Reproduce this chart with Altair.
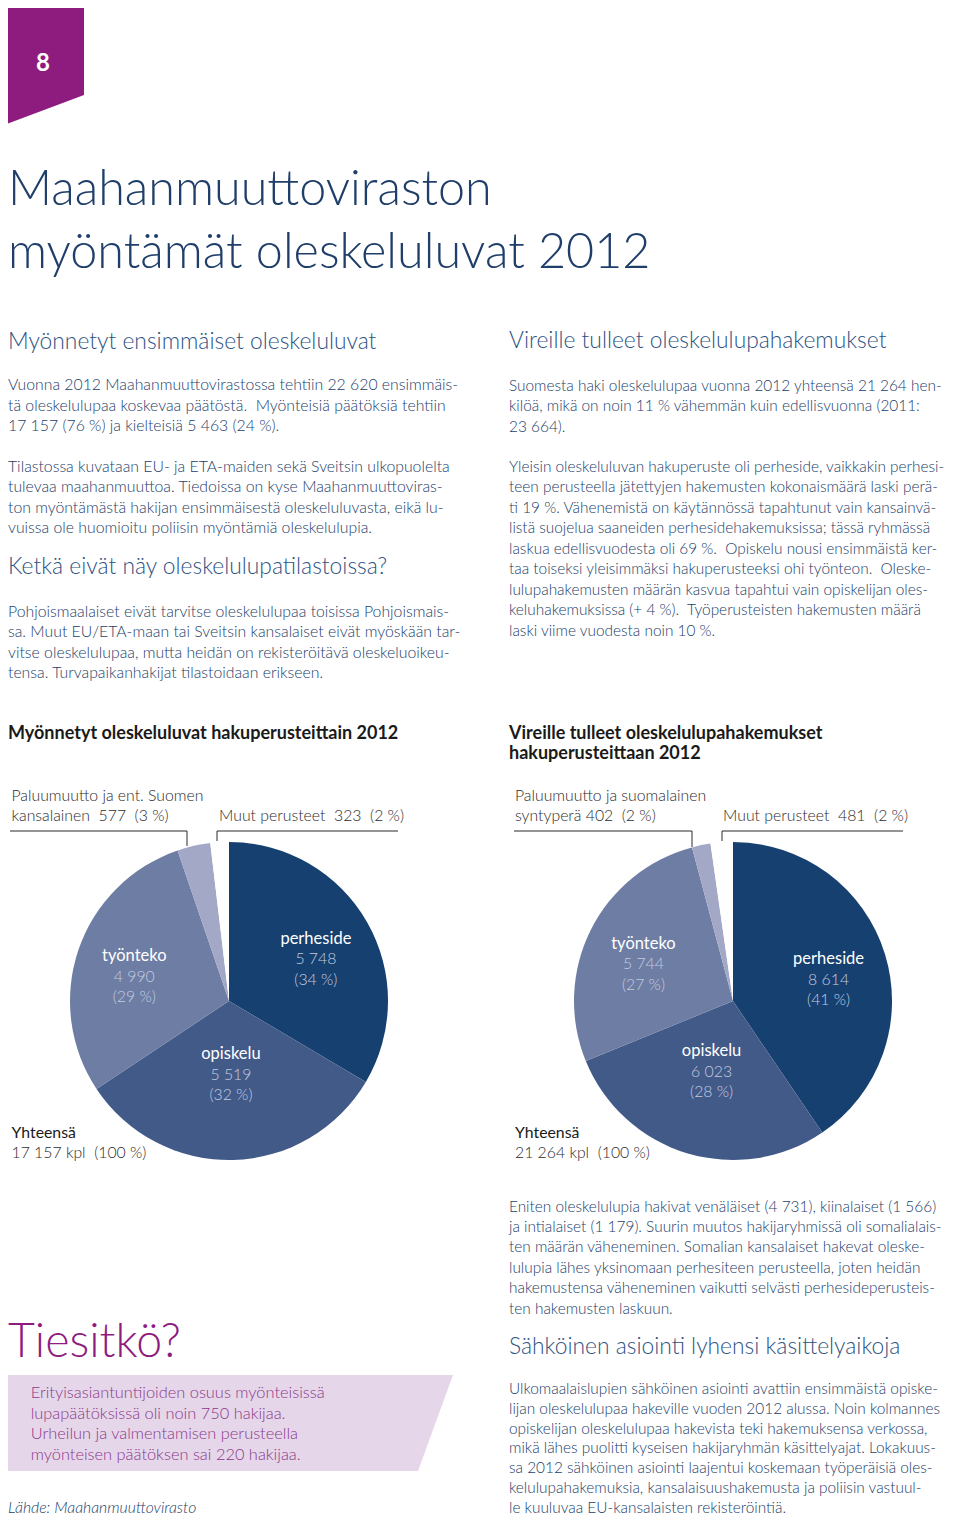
import altair as alt
import pandas as pd

# ---------------------------------------------------------------- data
categories = ["perheside", "opiskelu", "työnteko", "paluumuutto", "muut"]
granted_values = [5748, 5519, 4990, 577, 323]   # Myönnetyt oleskeluluvat 2012
applied_values = [8614, 6023, 5744, 402, 481]   # Vireille tulleet hakemukset 2012
slice_colors = ["#15406F", "#425A88", "#6E7DA3", "#A2A8C5", "#FFFFFF"]

page_number = "8"
title_lines = ["Maahanmuuttoviraston", "myöntämät oleskeluluvat 2012"]

left_heading1 = "Myönnetyt ensimmäiset oleskeluluvat"
left_para1 = [
    "Vuonna 2012 Maahanmuuttovirastossa tehtiin 22 620 ensimmäis-",
    "tä oleskelulupaa koskevaa päätöstä.  Myönteisiä päätöksiä tehtiin",
    "17 157 (76 %) ja kielteisiä 5 463 (24 %).",
]
left_para2 = [
    "Tilastossa kuvataan EU- ja ETA-maiden sekä Sveitsin ulkopuolelta",
    "tulevaa maahanmuuttoa. Tiedoissa on kyse Maahanmuuttoviras-",
    "ton myöntämästä hakijan ensimmäisestä oleskeluluvasta, eikä lu-",
    "vuissa ole huomioitu poliisin myöntämiä oleskelulupia.",
]
left_heading2 = "Ketkä eivät näy oleskelulupatilastoissa?"
left_para3 = [
    "Pohjoismaalaiset eivät tarvitse oleskelulupaa toisissa Pohjoismais-",
    "sa. Muut EU/ETA-maan tai Sveitsin kansalaiset eivät myöskään tar-",
    "vitse oleskelulupaa, mutta heidän on rekisteröitävä oleskeluoikeu-",
    "tensa. Turvapaikanhakijat tilastoidaan erikseen.",
]

right_heading1 = "Vireille tulleet oleskelulupahakemukset"
right_para1 = [
    "Suomesta haki oleskelulupaa vuonna 2012 yhteensä 21 264 hen-",
    "kilöä, mikä on noin 11 % vähemmän kuin edellisvuonna (2011:",
    "23 664).",
]
right_para2 = [
    "Yleisin oleskeluluvan hakuperuste oli perheside, vaikkakin perhesi-",
    "teen perusteella jätettyjen hakemusten kokonaismäärä laski perä-",
    "ti 19 %. Vähenemistä on käytännössä tapahtunut vain kansainvä-",
    "listä suojelua saaneiden perhesidehakemuksissa; tässä ryhmässä",
    "laskua edellisvuodesta oli 69 %.  Opiskelu nousi ensimmäistä ker-",
    "taa toiseksi yleisimmäksi hakuperusteeksi ohi työnteon.  Oleske-",
    "lulupahakemusten määrän kasvua tapahtui vain opiskelijan oles-",
    "keluhakemuksissa (+ 4 %).  Työperusteisten hakemusten määrä",
    "laski viime vuodesta noin 10 %.",
]

chart1_title = ["Myönnetyt oleskeluluvat hakuperusteittain 2012"]
chart2_title = ["Vireille tulleet oleskelulupahakemukset", "hakuperusteittaan 2012"]
chart1_return = ["Paluumuutto ja ent. Suomen", "kansalainen  577  (3 %)"]
chart1_other = ["Muut perusteet  323  (2 %)"]
chart2_return = ["Paluumuutto ja suomalainen", "syntyperä 402  (2 %)"]
chart2_other = ["Muut perusteet  481  (2 %)"]
chart1_total = "17 157 kpl  (100 %)"
chart2_total = "21 264 kpl  (100 %)"

bottom_para1 = [
    "Eniten oleskelulupia hakivat venäläiset (4 731), kiinalaiset (1 566)",
    "ja intialaiset (1 179). Suurin muutos hakijaryhmissä oli somalialais-",
    "ten määrän väheneminen. Somalian kansalaiset hakevat oleske-",
    "lulupia lähes yksinomaan perhesiteen perusteella, joten heidän",
    "hakemustensa väheneminen vaikutti selvästi perhesideperusteis-",
    "ten hakemusten laskuun.",
]
bottom_heading = "Sähköinen asiointi lyhensi käsittelyaikoja"
bottom_para2 = [
    "Ulkomaalaislupien sähköinen asiointi avattiin ensimmäistä opiske-",
    "lijan oleskelulupaa hakeville vuoden 2012 alussa. Noin kolmannes",
    "opiskelijan oleskelulupaa hakevista teki hakemuksensa verkossa,",
    "mikä lähes puolitti kyseisen hakijaryhmän käsittelyajat. Lokakuus-",
    "sa 2012 sähköinen asiointi laajentui koskemaan työperäisiä oles-",
    "kelulupahakemuksia, kansalaisuushakemusta ja poliisin vastuul-",
    "le kuuluvaa EU-kansalaisten rekisteröintiä.",
]
tiesitko_title = "Tiesitkö?"
tiesitko_lines = [
    "Erityisasiantuntijoiden osuus myönteisissä",
    "lupapäätöksissä oli noin 750 hakijaa.",
    "Urheilun ja valmentamisen perusteella",
    "myönteisen päätöksen sai 220 hakijaa.",
]
source_text = "Lähde: Maahanmuuttovirasto"

# ---------------------------------------------------------------- style
OFF = 8            # page margin: page coordinate -> chart coordinate
W, H = 944, 1508
FONT = "Lato"
BODY = "#23406A"
HEAD = "#2E5282"
TITLE = "#1F3E69"
DARK = "#2B2B2B"
LIGHT = "#C3CCE1"
PURPLE = "#8E1C7F"
LAVENDER = "#E6D6E9"
PURPLE_TEXT = "#8A3A8C"
R = 159
BODY_SIZE = 15.8
RIGHT_SIZE = 15.4
HEAD_SIZE = 22.8

one = pd.DataFrame({"k": [0]})


def X(px):
    return max(px - OFF, 0)


def Y(py):
    return py - OFF


def keep_spaces(s):
    return s.replace("  ", "\u00a0 ")


def txt(lines, x, y, size=BODY_SIZE, color=BODY, lh=20.5, weight=300, align="left", style="normal"):
    if isinstance(lines, str):
        lines = [lines]
    lines = [keep_spaces(s) for s in lines]
    return alt.Chart(one).mark_text(
        text=lines, align=align, baseline="alphabetic", font=FONT, fontSize=size,
        fontWeight=weight, fontStyle=style, color=color, lineHeight=lh,
    ).encode(x=alt.value(X(x)), y=alt.value(Y(y)))


def rule(x1, y1, x2, y2, color=DARK):
    return alt.Chart(one).mark_rule(color=color, strokeWidth=1).encode(
        x=alt.value(x1 - OFF), x2=alt.value(x2 - OFF),
        y=alt.value(y1 - OFF), y2=alt.value(y2 - OFF))


def shape(path, cx, cy, w, color):
    return alt.Chart(one).mark_point(
        shape=path, size=w * w, filled=True, color=color, opacity=1, strokeWidth=0,
    ).encode(x=alt.value(cx - OFF), y=alt.value(cy - OFF))


def fmt(v):
    return f"{v:,}".replace(",", " ")


def pie_layers(values, cx, cy):
    total = sum(values)
    df = pd.DataFrame({
        "cat": categories,
        "value": values,
        "order": list(range(len(values))),
        "num": [fmt(v) for v in values],
        "pct": [f"({round(v / total * 100)} %)" for v in values],
    })
    base = alt.Chart(df).encode(
        theta=alt.Theta("value:Q", stack="normalize"),
        order=alt.Order("order:Q", sort="ascending"),
    )
    pos = dict(x=alt.value(cx - OFF), y=alt.value(cy - OFF))
    arc = base.mark_arc(radius=R).encode(
        color=alt.Color("cat:N", scale=alt.Scale(domain=categories, range=slice_colors), legend=None),
        **pos,
    )
    layers = [arc]
    groups = ((["perheside", "työnteko"], 100, 8), (["opiskelu"], 74, 0))
    lines = (("cat", -20.5, "#FFFFFF", 16.5, 400), ("num", 0, LIGHT, 15.8, 300), ("pct", 20.5, LIGHT, 15.8, 300))
    for cats, rad, shift in groups:
        test = " || ".join(f"datum.cat == '{c}'" for c in cats)
        for field, dy, color, size, weight in lines:
            layers.append(
                base.transform_calculate(lab=f"({test}) ? datum.{field} : ''")
                .mark_text(radius=rad, dy=dy + shift, baseline="middle", align="center", font=FONT,
                           fontSize=size, fontWeight=weight, color=color)
                .encode(text="lab:N", **pos)
            )
    return layers


layers = []
# page tab and number
layers.append(shape("M-1,-1.5625L1,-1.5625L1,0.8125L-1,1.5625Z", 44, 62.5, 80, PURPLE))
layers.append(txt(page_number, 43, 71, size=24, color="#FFFFFF", weight=700, align="center"))

# title
layers.append(txt(title_lines, 5, 205, size=48.5, color=TITLE, lh=63, weight=300))

# left column
layers.append(txt(left_heading1, 5, 349, size=HEAD_SIZE, color=HEAD))
layers.append(txt(left_para1, 5, 390))
layers.append(txt(left_para2, 5, 471.7))
layers.append(txt(left_heading2, 5, 574, size=HEAD_SIZE, color=HEAD))
layers.append(txt(left_para3, 5, 616.7))

# right column
layers.append(txt(right_heading1, 509, 348.3, size=HEAD_SIZE, color=HEAD))
layers.append(txt(right_para1, 509, 390.7, size=RIGHT_SIZE))
layers.append(txt(right_para2, 509, 471.7, size=RIGHT_SIZE))

# chart titles
layers.append(txt(chart1_title, 5, 739.3, size=18, color="#1A1A1A", weight=700, lh=20))
layers.append(txt(chart2_title, 509, 739.3, size=18, color="#1A1A1A", weight=700, lh=20))

# pie 1
layers += pie_layers(granted_values, 229, 1001)
layers.append(txt(chart1_return, 11.5, 800.7, color=DARK, lh=20))
layers.append(txt(chart1_other, 219, 820.7, color=DARK))
layers.append(rule(10, 831, 187, 831))
layers.append(rule(187, 831, 187, 846))
layers.append(rule(217, 831, 398, 831))
layers.append(rule(217, 831, 217, 841))
layers.append(txt("Yhteensä", 11.5, 1138.3, color="#1A1A1A", weight=400))
layers.append(txt(chart1_total, 11.5, 1158.3, color=DARK))

# pie 2
layers += pie_layers(applied_values, 733, 1001)
layers.append(txt(chart2_return, 515, 800.7, color=DARK, lh=20))
layers.append(txt(chart2_other, 723, 820.7, color=DARK))
layers.append(rule(514, 831, 692, 831))
layers.append(rule(692, 831, 692, 847))
layers.append(rule(722, 831, 903, 831))
layers.append(rule(722, 831, 722, 841))
layers.append(txt("Yhteensä", 515, 1138.3, color="#1A1A1A", weight=400))
layers.append(txt(chart2_total, 515, 1158.3, color=DARK))

# Tiesitkö box
layers.append(txt(tiesitko_title, 5, 1356.7, size=46.5, color=PURPLE, weight=300))
layers.append(shape("M-1,-0.2138L1,-0.2138L0.844,0.2138L-1,0.2138Z", 228.5, 1423, 449, LAVENDER))
layers.append(txt(tiesitko_lines, 30.7, 1398.3, size=16.4, color=PURPLE_TEXT, lh=20.6))
layers.append(txt(source_text, 5, 1513, color=BODY, style="italic"))

# bottom right
layers.append(txt(bottom_para1, 509, 1211.7, size=RIGHT_SIZE, lh=20.4))
layers.append(txt(bottom_heading, 509, 1354, size=HEAD_SIZE, color=HEAD))
layers.append(txt(bottom_para2, 509, 1394, size=RIGHT_SIZE, lh=19.8))

chart = alt.layer(*layers).properties(
    width=W, height=H, padding=0, autosize="none", background="#FFFFFF",
).configure_view(stroke=None)

chart.save("out.html", embed_options={"renderer": "svg", "actions": False})
